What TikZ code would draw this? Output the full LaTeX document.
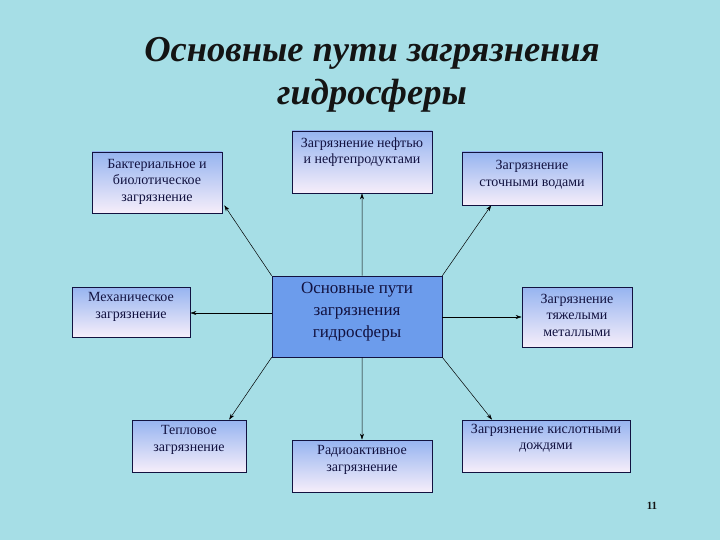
\documentclass[tikz,border=0pt]{standalone}
\usepackage{fontspec}
\setmainfont{Liberation Serif}
\usetikzlibrary{arrows.meta,calc}
\definecolor{bg}{RGB}{166,222,230}
\definecolor{boxtop}{RGB}{150,180,240}
\definecolor{boxbot}{RGB}{246,238,250}
\definecolor{navy}{RGB}{18,18,64}
\definecolor{centerfill}{RGB}{108,156,236}
\definecolor{titlecol}{RGB}{20,20,20}
\tikzset{
  pbox/.style={draw=navy, line width=0.7pt, top color=boxtop, bottom color=boxbot, inner sep=0pt},
  ptext/.style={text=navy, align=center, inner sep=0pt, font=\fontsize{14}{16.5}\selectfont},
  cbox/.style={draw=navy, line width=0.7pt, fill=centerfill, inner sep=0pt},
  ctext/.style={text=navy, align=center, inner sep=0pt, font=\fontsize{17}{22}\selectfont},
  conn/.style={draw=black, line width=0.5pt, -{Stealth[length=6pt,width=4pt]}},
  ttl/.style={text=titlecol, align=center, inner sep=0pt, font=\fontsize{36.5}{43}\selectfont\bfseries\itshape}
}
\begin{document}
\begin{tikzpicture}[x=1pt,y={(0,-1pt)}]
\fill[bg] (0,0) rectangle (720,540);
\useasboundingbox (0,0) rectangle (720,540);
% title
\node[ttl] (title) at (372,75) {Основные пути загрязнения\\гидросферы};
% boxes
\node[pbox, minimum width=130pt, minimum height=61pt] (b1) at (157,182.5) {};
\node[ptext] (t1) at ($(b1)+(0,-1)$) {Бактериальное и\\биолотическое\\загрязнение};
\node[pbox, minimum width=140pt, minimum height=62pt] (b2) at (362,162) {};
\node[ptext] (t2) at ($(b2)+(0,-10)$) {Загрязнение нефтью\\и нефтепродуктами};
\node[pbox, minimum width=140pt, minimum height=53pt] (b3) at (532,178.5) {};
\node[ptext] (t3) at ($(b3)+(0,-4)$) {Загрязнение\\сточными водами};
\node[cbox, minimum width=170pt, minimum height=81pt] (c) at (357,316.5) {};
\node[ctext] (tc) at ($(c)+(0,-5)$) {Основные пути\\загрязнения\\гидросферы};
\node[pbox, minimum width=118pt, minimum height=50pt] (b5) at (131,312) {};
\node[ptext] (t5) at ($(b5)+(0,-5)$) {Механическое\\загрязнение};
\node[pbox, minimum width=110pt, minimum height=60pt] (b6) at (577,317) {};
\node[ptext] (t6) at ($(b6)+(0,-2)$) {Загрязнение\\тяжелыми\\металлыми};
\node[pbox, minimum width=114pt, minimum height=52pt] (b7) at (189,446) {};
\node[ptext] (t7) at ($(b7)+(0,-6)$) {Тепловое\\загрязнение};
\node[pbox, minimum width=140pt, minimum height=52pt] (b8) at (362,466) {};
\node[ptext] (t8) at ($(b8)+(0,-6)$) {Радиоактивное\\загрязнение};
\node[pbox, minimum width=168pt, minimum height=52pt] (b9) at (546,446) {};
\node[ptext] (t9) at ($(b9)+(0,-8)$) {Загрязнение кислотными\\дождями};
% page number
\node[text=titlecol, inner sep=0pt, font=\fontsize{11}{13}\selectfont\bfseries] (pn) at (652,506) {11};
% connector end points
\coordinate (s1) at (c.north west);
\coordinate (e1) at ($(b1.south east)+(2,-8)$);
\coordinate (s2) at ($(c.north west)!0.53!(c.north east)$);
\coordinate (e2) at ($(b2.south west)!0.5!(b2.south east)$);
\coordinate (s3) at (c.north east);
\coordinate (e3) at ($(b3.south west)!0.21!(b3.south east)$);
\coordinate (e5) at ($(b5.east)+(0,1)$);
\coordinate (s5) at (c.west |- e5);
\coordinate (e6) at (b6.west);
\coordinate (s6) at (c.east |- e6);
\coordinate (s7) at (c.south west);
\coordinate (e7) at ($(b7.north west)!0.85!(b7.north east)$);
\coordinate (s8) at ($(c.south west)!0.53!(c.south east)$);
\coordinate (e8) at (b8.north);
\coordinate (s9) at (c.south east);
\coordinate (e9) at ($(b9.north west)!0.18!(b9.north east)$);
\draw[conn] (s1) -- (e1);
\draw[conn] (s2) -- (e2);
\draw[conn] (s3) -- (e3);
\draw[conn] (s5) -- (e5);
\draw[conn] (s6) -- (e6);
\draw[conn] (s7) -- (e7);
\draw[conn] (s8) -- (e8);
\draw[conn] (s9) -- (e9);
\end{tikzpicture}
\end{document}
